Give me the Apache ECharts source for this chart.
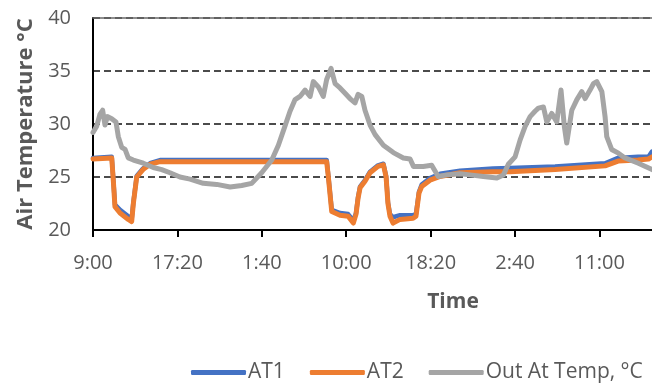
<!DOCTYPE html>
<html>
<head>
<meta charset="utf-8">
<script src="https://cdn.jsdelivr.net/npm/echarts@6/dist/echarts.min.js"></script>
<style>
  html, body { margin: 0; padding: 0; background: #fff; }
  #chart { width: 652px; height: 385px; }
</style>
</head>
<body>
<div id="chart"></div>
<script>
// Time is measured in minutes after 9:00 on the first day.
const tickLabels = ['9:00', '17:20', '1:40', '10:00', '18:20', '2:40', '11:00'];
const tickStep = 500;

const atTime = [0, 111, 121, 130, 160, 209, 229, 239, 259, 296, 338, 397, 700, 1000, 1384, 1394, 1414, 1463, 1511, 1542, 1558, 1570, 1582, 1611, 1641, 1688, 1720, 1736, 1747, 1759, 1777, 1819, 1896, 1913, 1931, 1947, 1996, 2056, 2174, 2370, 2470, 2737, 3033, 3110, 3228, 3290, 3311];
const at1 = [26.8, 26.9, 24.6, 22.4, 21.9, 21.3, 21.0, 22.6, 25.1, 25.8, 26.3, 26.6, 26.6, 26.6, 26.6, 25.1, 21.9, 21.6, 21.5, 20.9, 21.6, 23.1, 24.1, 24.7, 25.5, 26.1, 26.25, 25.1, 22.6, 21.5, 21.2, 21.4, 21.4, 21.5, 23.6, 24.3, 24.9, 25.3, 25.6, 25.8, 25.85, 26.0, 26.3, 26.8, 26.9, 26.9, 27.4];
const at2 = [26.7, 26.8, 24.5, 22.2, 21.6, 21.0, 20.8, 22.5, 25.0, 25.7, 26.2, 26.45, 26.45, 26.45, 26.45, 25.0, 21.75, 21.4, 21.3, 20.65, 21.5, 23.0, 24.0, 24.6, 25.4, 26.0, 26.15, 25.0, 22.5, 21.3, 20.65, 21.0, 21.1, 21.3, 23.5, 24.1, 24.7, 25.05, 25.4, 25.5, 25.5, 25.7, 26.05, 26.5, 26.6, 26.7, 26.9];

const outTime = [0, 6, 22, 41, 57, 71, 85, 111, 136, 150, 170, 190, 209, 239, 298, 357, 407, 456, 515, 575, 653, 733, 812, 881, 940, 999, 1059, 1098, 1137, 1167, 1197, 1226, 1256, 1286, 1305, 1335, 1364, 1384, 1410, 1434, 1463, 1493, 1522, 1552, 1570, 1592, 1611, 1641, 1671, 1720, 1779, 1838, 1878, 1898, 1956, 2006, 2045, 2095, 2174, 2233, 2312, 2392, 2431, 2460, 2500, 2530, 2559, 2589, 2618, 2638, 2668, 2688, 2717, 2747, 2772, 2792, 2806, 2836, 2866, 2895, 2915, 2944, 2964, 2984, 3014, 3033, 3043, 3072, 3112, 3151, 3230, 3311];
const outTemp = [29.2, 29.3, 29.8, 30.9, 31.3, 29.9, 30.7, 30.5, 30.2, 28.8, 27.8, 27.6, 26.8, 26.6, 26.3, 25.9, 25.7, 25.4, 25.0, 24.8, 24.4, 24.3, 24.05, 24.2, 24.4, 25.4, 26.6, 28.0, 29.8, 31.2, 32.3, 32.6, 33.2, 32.6, 34.0, 33.5, 32.6, 34.2, 35.25, 33.8, 33.4, 32.9, 32.4, 32.0, 32.8, 32.6, 31.3, 29.9, 29.0, 28.0, 27.3, 26.8, 26.7, 26.0, 26.0, 26.1, 25.05, 25.2, 25.3, 25.2, 25.05, 24.9, 25.2, 26.2, 26.9, 28.5, 29.75, 30.7, 31.2, 31.5, 31.6, 30.2, 31.0, 30.2, 33.2, 29.75, 28.2, 31.3, 32.3, 33.05, 32.4, 33.2, 33.8, 34.0, 33.05, 30.7, 28.8, 27.6, 27.25, 26.8, 26.3, 25.7];

const seriesNames = ['AT1', 'AT2', 'Out At Temp, °C'];
const FONT = '"Open Sans", "Liberation Sans", sans-serif';
const TEXT = '#595959';

function pairs(xs, ys) { return xs.map((x, i) => [x, ys[i]]); }

const chart = echarts.init(document.getElementById('chart'), null, { renderer: 'canvas' });
chart.setOption({
  animation: false,
  backgroundColor: '#fff',
  color: ['#4472C4', '#ED7D31', '#A5A5A5'],
  grid: { left: 93, right: 0, top: 18, bottom: 155, containLabel: false },
  xAxis: [{
    type: 'value',
    min: 0,
    max: 3311,
    interval: tickStep,
    axisLine: { show: true, onZero: false, lineStyle: { color: '#000', width: 2 } },
    axisTick: { show: true, length: 7, inside: false, lineStyle: { color: '#000', width: 2 } },
    splitLine: { show: false },
    axisLabel: {
      margin: 23,
      fontFamily: FONT, fontSize: 20, color: TEXT,
      showMaxLabel: false,
      formatter: v => tickLabels[Math.round(v / tickStep)] || ''
    }
  }, {
    type: 'value',
    position: 'top',
    min: 0, max: 3311,
    axisLine: { show: true, lineStyle: { color: '#6a6a6a', width: 1.5 } },
    axisTick: { show: false }, axisLabel: { show: false }, splitLine: { show: false }
  }],
  yAxis: {
    type: 'value',
    min: 20, max: 40, interval: 5,
    name: 'Air Temperature °C',
    nameLocation: 'middle',
    nameGap: 52,
    nameTextStyle: { fontFamily: FONT, fontSize: 22, fontWeight: 'bold', color: TEXT },
    axisLine: { show: true, lineStyle: { color: '#000', width: 2 } },
    axisTick: { show: false },
    axisLabel: { margin: 22, fontFamily: FONT, fontSize: 20, color: TEXT },
    splitLine: { show: true, lineStyle: { color: '#111', width: 1.5, type: [7, 4] } }
  },
  legend: {
    left: 186, top: 357,
    itemWidth: 55, itemHeight: 5, itemGap: 25,
    icon: 'roundRect',
    textStyle: { fontFamily: FONT, fontSize: 21, color: TEXT, padding: [0, 0, 0, -3] },
    data: seriesNames
  },
  graphic: [{
    type: 'text', x: 453, y: 302,
    style: { text: 'Time', font: 'bold 21px ' + FONT, fill: TEXT, align: 'center', verticalAlign: 'middle' }
  }],
  series: [
    { name: seriesNames[0], type: 'line', data: pairs(atTime, at1), showSymbol: false, clip: true,
      lineStyle: { width: 4.5, cap: 'round', join: 'round' } },
    { name: seriesNames[1], type: 'line', data: pairs(atTime, at2), showSymbol: false, clip: true,
      lineStyle: { width: 5, cap: 'round', join: 'round' } },
    { name: seriesNames[2], type: 'line', data: pairs(outTime, outTemp), showSymbol: false, clip: true,
      lineStyle: { width: 5, cap: 'round', join: 'round' } }
  ]
});
</script>
</body>
</html>
